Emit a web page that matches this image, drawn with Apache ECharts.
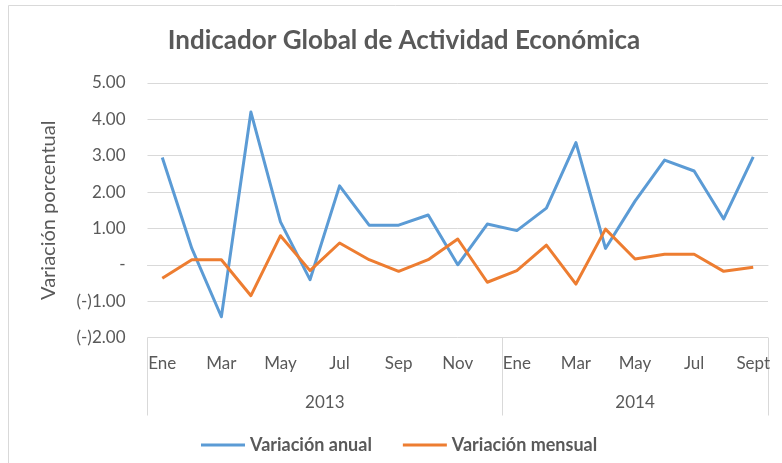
<!DOCTYPE html>
<html>
<head>
<meta charset="utf-8">
<script src="https://cdn.jsdelivr.net/npm/echarts@6/dist/echarts.min.js"></script>
<style>
  html, body { margin: 0; padding: 0; background: #fff; }
  #chart { width: 782px; height: 463px; }
</style>
</head>
<body>
<div id="chart"></div>
<script>
// meses (ene 2013 - sept 2014)
const meses = ['Ene', 'Feb', 'Mar', 'Abr', 'May', 'Jun', 'Jul', 'Ago', 'Sep', 'Oct', 'Nov', 'Dic',
  'Ene', 'Feb', 'Mar', 'Abr', 'May', 'Jun', 'Jul', 'Ago', 'Sept']
const anios = ['2013', '2014']
const variacionAnual = [2.95, 0.45, -1.43, 4.20, 1.18, -0.41, 2.17, 1.09, 1.09, 1.37, 0.00, 1.12,
  0.94, 1.56, 3.36, 0.45, 1.75, 2.88, 2.58, 1.26, 2.97]
const variacionMensual = [-0.37, 0.14, 0.14, -0.85, 0.80, -0.16, 0.60, 0.14, -0.18, 0.14, 0.71, -0.48,
  -0.16, 0.54, -0.53, 0.98, 0.16, 0.29, 0.29, -0.18, -0.07]

const gris = '#595959'
const linea = '#d9d9d9'
const fuente = 'Lato'

const chart = echarts.init(document.getElementById('chart'))

chart.setOption({
  backgroundColor: '#fff',
  textStyle: {fontFamily: fuente},
  title: {
    text: 'Indicador Global de Actividad Económica',
    left: 399,
    textAlign: 'center',
    top: 23,
    textStyle: {color: gris, fontSize: 26, fontWeight: 'bold', fontFamily: fuente}
  },
  graphic: [{
    type: 'rect',
    shape: {x: 8.5, y: 5.5, width: 900, height: 600},
    style: {fill: 'none', stroke: linea, lineWidth: 1},
    silent: true
  }],
  legend: {
    bottom: 4,
    left: 196,
    itemWidth: 44,
    itemHeight: 3,
    itemGap: 31,
    icon: 'rect',
    textStyle: {color: gris, fontSize: 18, fontWeight: 'bold', fontFamily: fuente},
    data: ['Variación anual', 'Variación mensual']
  },
  grid: {left: 147.5, right: 14, top: 83, bottom: 125.5},
  xAxis: [{
    type: 'category',
    data: meses,
    boundaryGap: true,
    axisLine: {show: true, lineStyle: {color: linea, width: 1}},
    axisTick: {show: false},
    axisLabel: {interval: 1, color: gris, fontSize: 17, margin: 18, fontFamily: fuente}
  }, {
    // segundo nivel: años
    type: 'value',
    position: 'bottom',
    min: 0,
    max: 21,
    axisLine: {show: false},
    splitLine: {show: false},
    axisTick: {show: true, inside: false, length: 78, customValues: [0, 12, 21], lineStyle: {color: linea}},
    axisLabel: {
      customValues: [6, 16.5],
      formatter: v => (v < 12 ? anios[0] : anios[1]),
      color: gris, fontSize: 17, margin: 57, fontFamily: fuente
    }
  }],
  yAxis: {
    type: 'value',
    min: -2,
    max: 5,
    interval: 1,
    name: 'Variación porcentual',
    nameLocation: 'middle',
    nameGap: 89,
    nameTextStyle: {color: gris, fontSize: 20, fontFamily: fuente},
    axisLine: {show: false},
    axisTick: {show: false},
    splitLine: {lineStyle: {color: linea, width: 1}},
    axisLabel: {
      color: gris, fontSize: 17, margin: 22, fontFamily: fuente,
      formatter: v => v === 0 ? '-' : (v < 0 ? '(-)' + Math.abs(v).toFixed(2) : v.toFixed(2))
    }
  },
  series: [{
    name: 'Variación anual',
    type: 'line',
    data: variacionAnual,
    symbol: 'none',
    itemStyle: {color: '#5B9BD5'},
    lineStyle: {color: '#5B9BD5', width: 3, join: 'round'}
  }, {
    name: 'Variación mensual',
    type: 'line',
    data: variacionMensual,
    symbol: 'none',
    itemStyle: {color: '#ED7D31'},
    lineStyle: {color: '#ED7D31', width: 3, join: 'round'}
  }]
})
</script>
</body>
</html>
